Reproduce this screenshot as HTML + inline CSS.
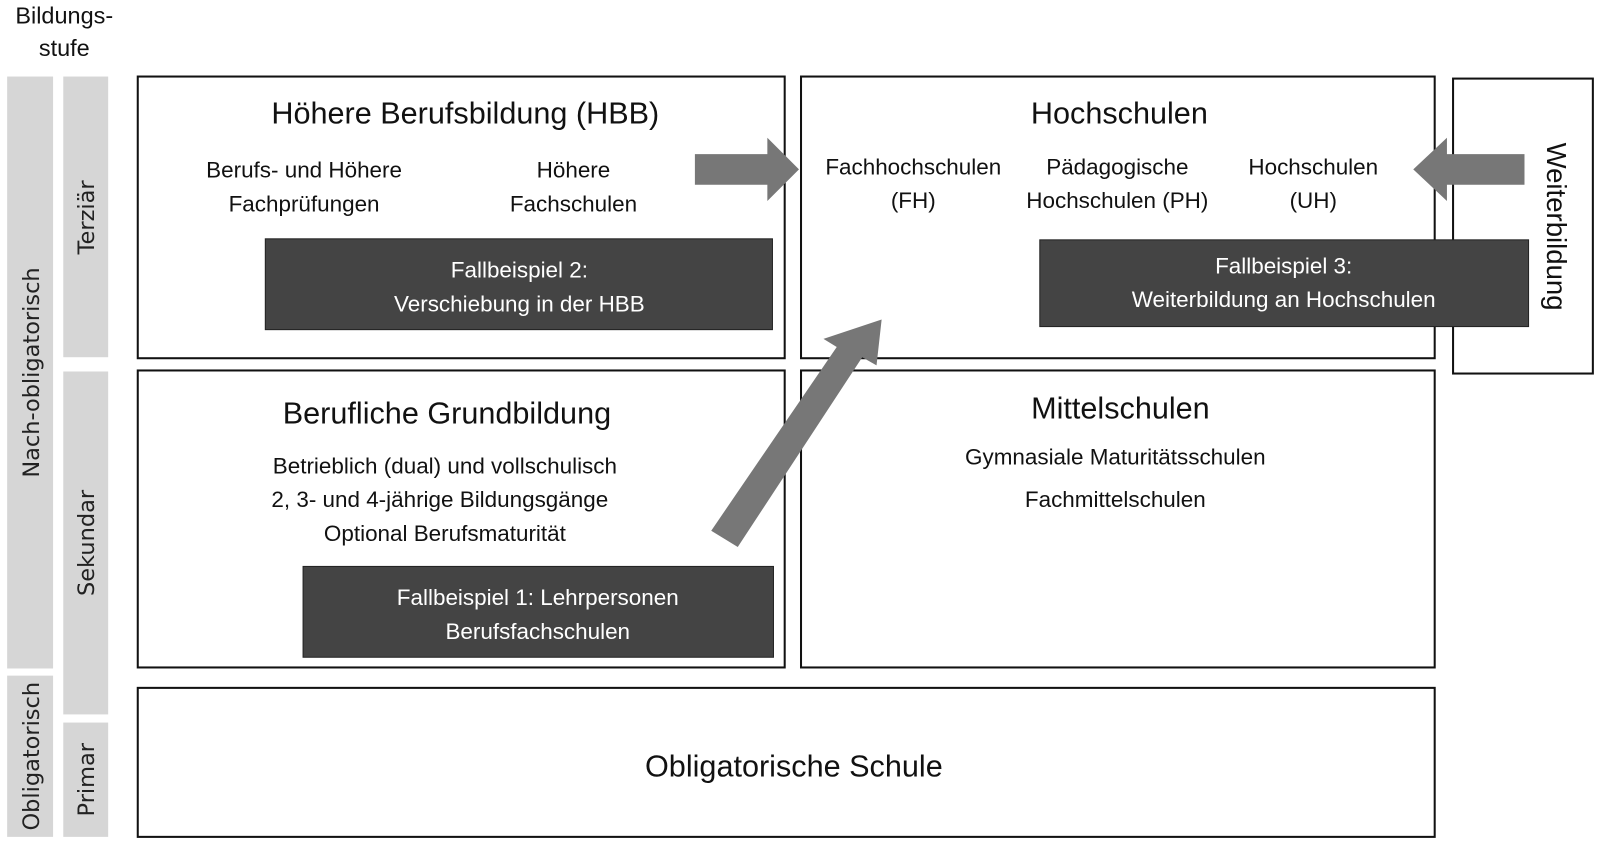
<!DOCTYPE html>
<html><head><meta charset="utf-8"><style>
html,body{margin:0;padding:0;background:#fff;}
svg{display:block;}
.c{font-family:"Liberation Sans Narrow","Liberation Sans",sans-serif;fill:#111;text-anchor:middle;}
.w{font-family:"Liberation Sans Narrow","Liberation Sans",sans-serif;fill:#fff;text-anchor:middle;}
.d{font-family:"DejaVu Sans",sans-serif;fill:#222;text-anchor:middle;}
</style></head><body>
<svg width="1600" height="843" viewBox="0 0 1568 826" preserveAspectRatio="none" xmlns="http://www.w3.org/2000/svg">
<text class="c" x="63" y="23" font-size="23">Bildungs-</text>
<text class="c" x="63" y="55" font-size="23">stufe</text>
<!-- gray bars -->
<g fill="#d6d6d6">
<rect x="7" y="75" width="45" height="580"/>
<rect x="7" y="662" width="45" height="158"/>
<rect x="62" y="75" width="44" height="275"/>
<rect x="62" y="364" width="44" height="336"/>
<rect x="62" y="708" width="44" height="112"/>
</g>
<text class="d" font-size="22" transform="translate(38,365) rotate(-90)">Nach-obligatorisch</text>
<text class="d" font-size="22" transform="translate(38,741) rotate(-90)">Obligatorisch</text>
<text class="d" font-size="22" transform="translate(92,213) rotate(-90)">Terziär</text>
<text class="d" font-size="22" transform="translate(92,532) rotate(-90)">Sekundar</text>
<text class="d" font-size="22" transform="translate(92,764) rotate(-90)">Primar</text>
<!-- boxes -->
<g fill="none" stroke="#111" stroke-width="2">
<rect x="135" y="75" width="634" height="276"/>
<rect x="785" y="75" width="621" height="276"/>
<rect x="1424" y="77" width="137" height="289"/>
<rect x="135" y="363" width="634" height="291"/>
<rect x="785" y="363" width="621" height="291"/>
<rect x="135" y="674" width="1271" height="146"/>
</g>
<text class="c" x="456" y="121" font-size="30">Höhere Berufsbildung (HBB)</text>
<text class="c" x="298" y="174" font-size="22">Berufs- und Höhere</text>
<text class="c" x="298" y="207" font-size="22">Fachprüfungen</text>
<text class="c" x="562" y="174" font-size="22">Höhere</text>
<text class="c" x="562" y="207" font-size="22">Fachschulen</text>
<text class="c" x="1097" y="121" font-size="30">Hochschulen</text>
<text class="c" x="895" y="171" font-size="22">Fachhochschulen</text>
<text class="c" x="895" y="204" font-size="22">(FH)</text>
<text class="c" x="1095" y="171" font-size="22">Pädagogische</text>
<text class="c" x="1095" y="204" font-size="22">Hochschulen (PH)</text>
<text class="c" x="1287" y="171" font-size="22">Hochschulen</text>
<text class="c" x="1287" y="204" font-size="22">(UH)</text>
<text class="c" font-size="27" transform="translate(1516,222) rotate(90)">Weiterbildung</text>
<text class="c" x="438" y="415" font-size="30">Berufliche Grundbildung</text>
<text class="c" x="436" y="464" font-size="22">Betrieblich (dual) und vollschulisch</text>
<text class="c" x="431" y="497" font-size="22">2, 3- und 4-jährige Bildungsgänge</text>
<text class="c" x="436" y="530" font-size="22">Optional Berufsmaturität</text>
<text class="c" x="1098" y="410" font-size="30">Mittelschulen</text>
<text class="c" x="1093" y="455" font-size="22">Gymnasiale Maturitätsschulen</text>
<text class="c" x="1093" y="497" font-size="22">Fachmittelschulen</text>
<text class="c" x="778" y="761" font-size="30">Obligatorische Schule</text>
<!-- dark boxes -->
<g fill="#444" stroke="#222" stroke-width="1">
<rect x="260" y="234" width="497" height="89"/>
<rect x="1019" y="235" width="479" height="85"/>
<rect x="297" y="555" width="461" height="89"/>
</g>
<text class="w" x="509" y="272" font-size="22">Fallbeispiel 2:</text>
<text class="w" x="509" y="305" font-size="22">Verschiebung in der HBB</text>
<text class="w" x="1258" y="268" font-size="22">Fallbeispiel 3:</text>
<text class="w" x="1258" y="301" font-size="22">Weiterbildung an Hochschulen</text>
<text class="w" x="527" y="593" font-size="22">Fallbeispiel 1: Lehrpersonen</text>
<text class="w" x="527" y="626" font-size="22">Berufsfachschulen</text>
<!-- arrows -->
<g fill="#777">
<polygon points="681,151 752,151 752,135 783,166 752,197 752,181 681,181"/>
<polygon points="1494,151 1418,151 1418,135 1385,166 1418,197 1418,181 1494,181"/>
<polygon points="697,520 820,340 807,332 864,313 859,358 845,350 723,536"/>
</g>
</svg>
</body></html>
